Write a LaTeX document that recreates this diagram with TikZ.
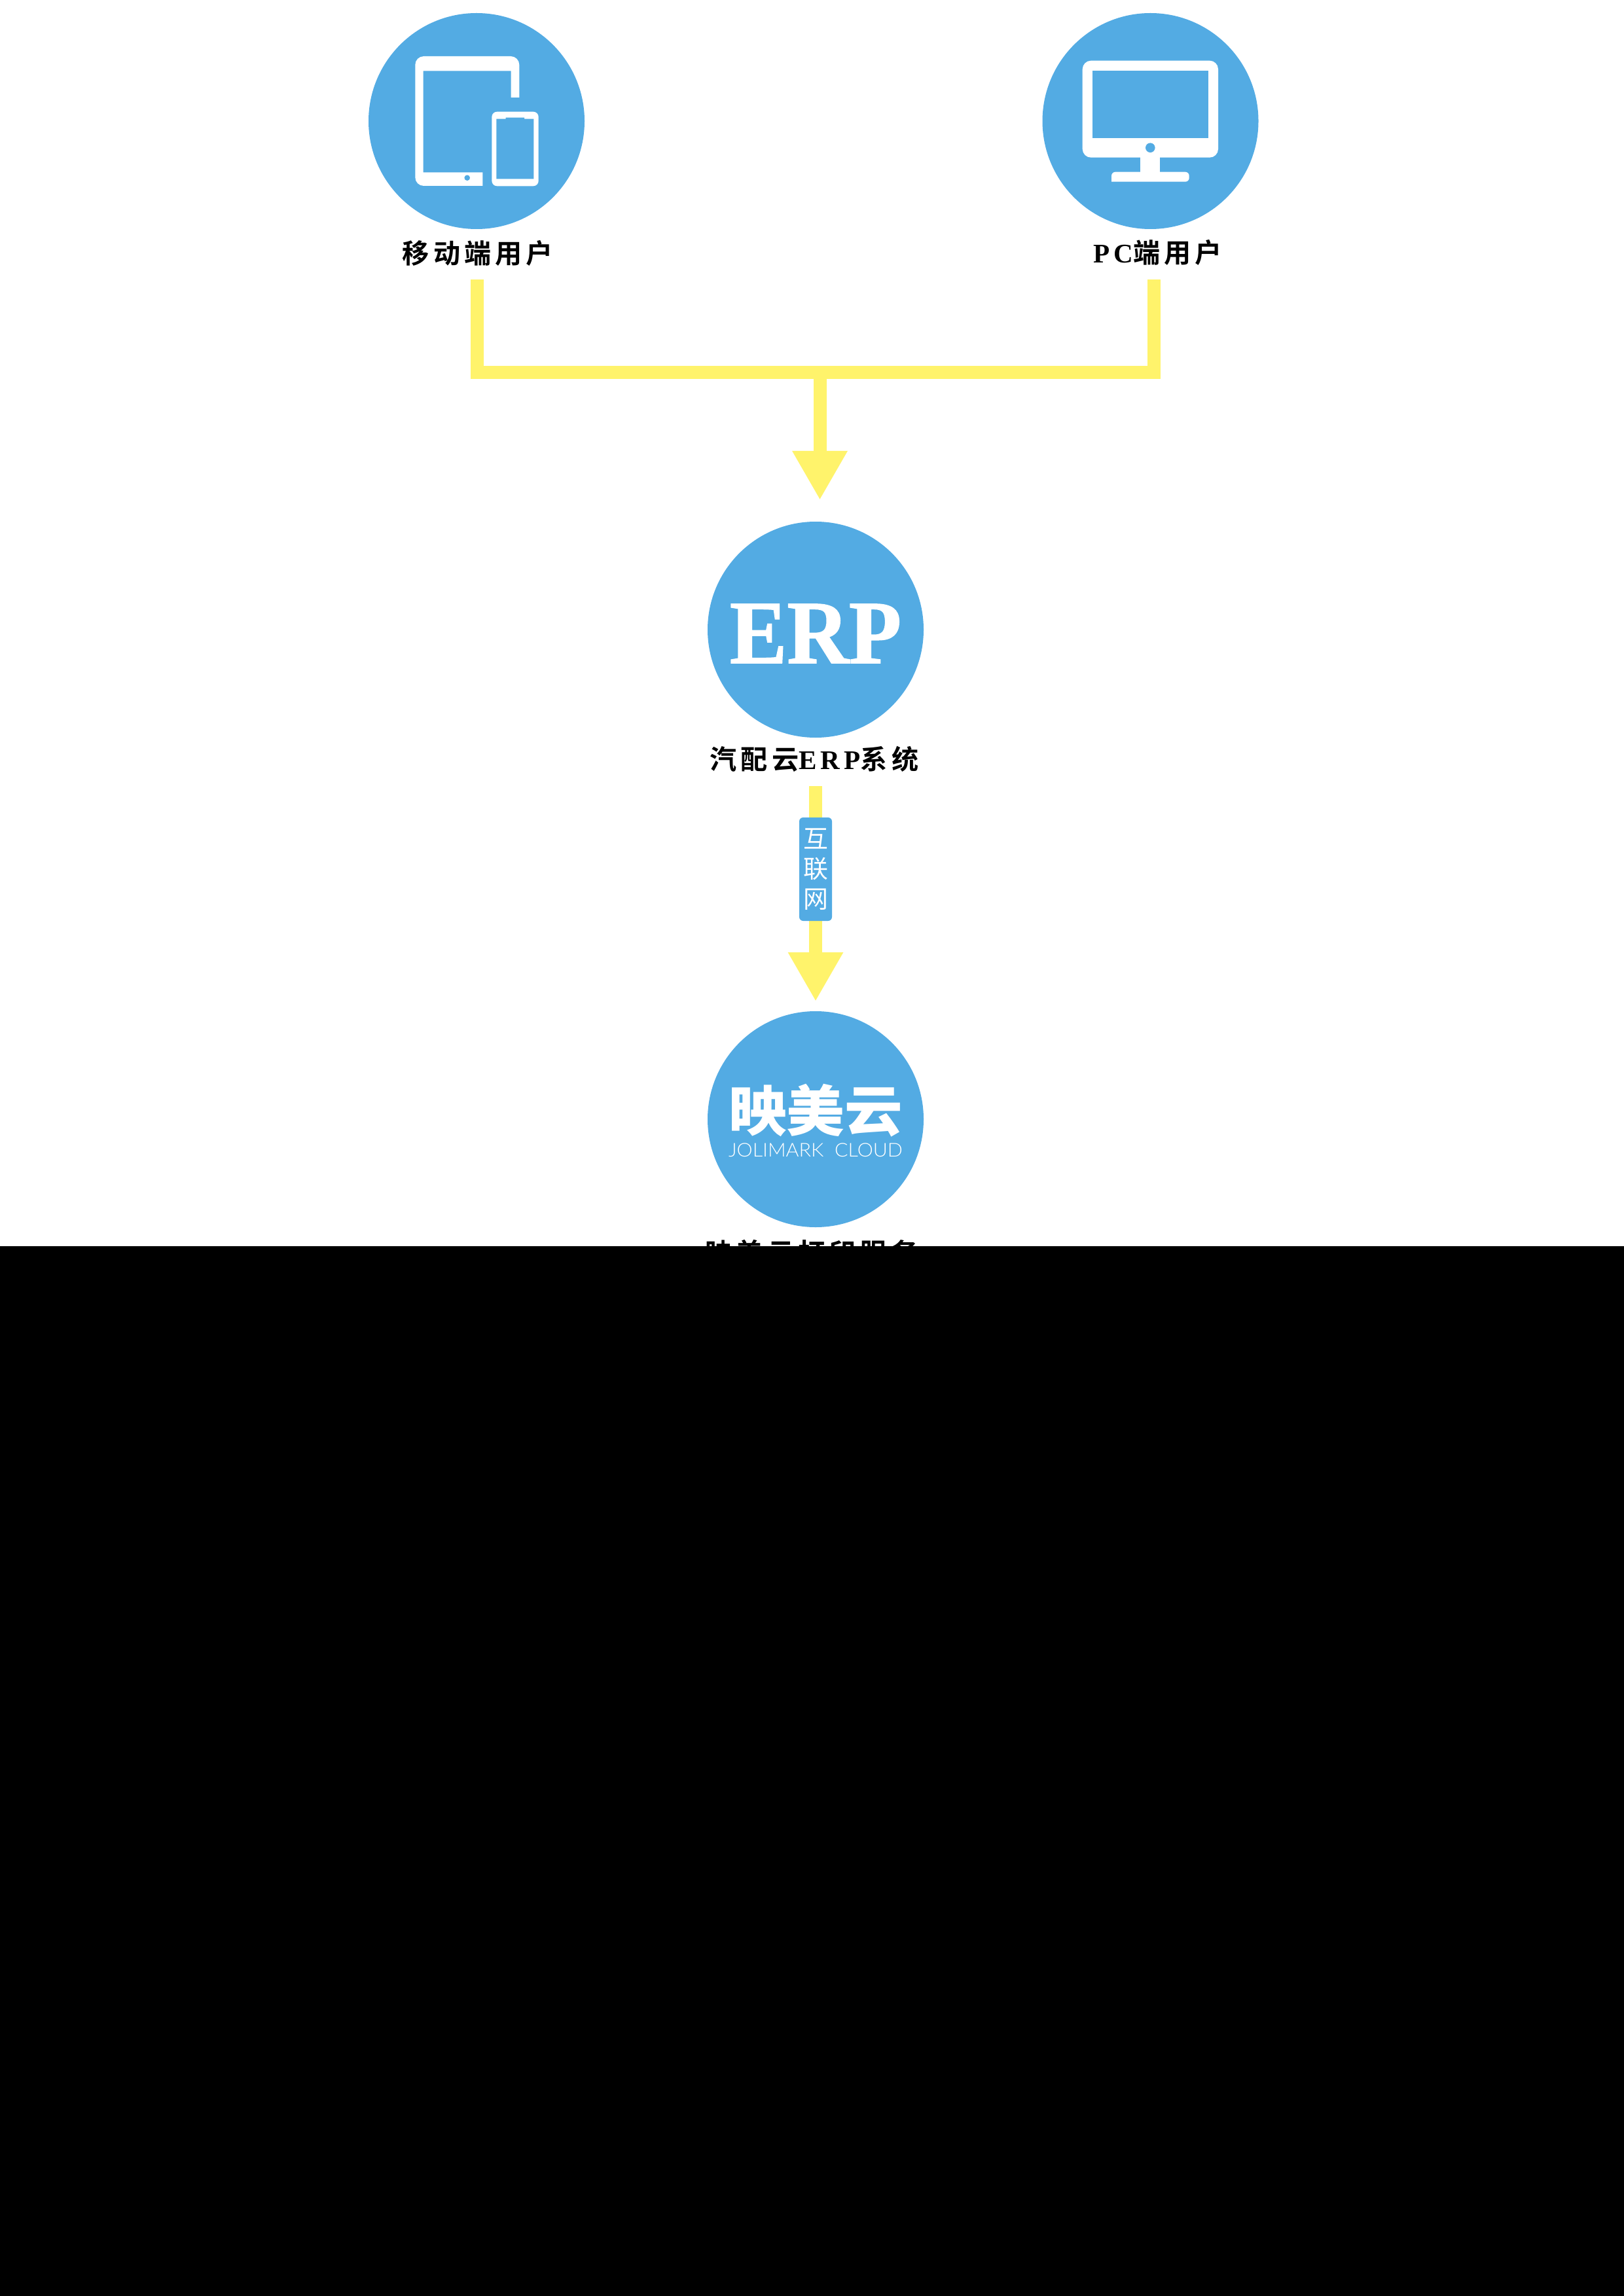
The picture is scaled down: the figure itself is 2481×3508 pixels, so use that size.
\documentclass[tikz,border=0pt]{standalone}
\usepackage{fontspec}
\usepackage{graphicx}
\usetikzlibrary{arrows.meta, positioning}
\setmainfont{Liberation Serif}
\newfontfamily\cjk[LetterSpace=15,BoldFont={Noto Sans CJK SC Bold}]{Noto Sans CJK SC}
\newfontfamily\lat[LetterSpace=15]{Liberation Serif}
\newfontfamily\logocjk{Noto Sans CJK SC}
\newfontfamily\logolat{Lato Light}
\newfontfamily\erpfont[FakeBold=1.2]{Liberation Serif Bold}
\definecolor{cloudblue}{HTML}{53ABE3}
\definecolor{flowyellow}{HTML}{FFF36B}
\tikzset{
  disc/.style={circle, fill=cloudblue, minimum size=33mm, inner sep=0pt},
  caption/.style={inner sep=0pt, font=\fontsize{11.7}{13}\selectfont\bfseries},
  disctext/.style={inner sep=0pt, text=white},
  flow/.style={draw=flowyellow, line width=2mm, miter limit=10},
  flowhead/.style={-{Triangle[width=7.9mm, length=7.5mm]}},
  badge/.style={fill=cloudblue, rounded corners=0.6mm, minimum width=5mm, minimum height=15.8mm, inner sep=0pt, text=white, align=center, font=\fontsize{10.8}{13.1}\selectfont\logocjk}
}
\begin{document}
\begin{tikzpicture}[x=0.1mm, y=-0.1mm]
        \useasboundingbox (0,0) rectangle (2481,3508);

        % Circles
        \node[disc] (mobile) at (728,185) {};
        \node[disc] (pc) at (1757.5,185) {};
        \node[disc] (erp) at (1246,962) {};
        \node[disc] (cloud) at (1246,1710) {};

        % Captions
        \node[caption] (mobilecap) at (730,387) {\cjk 移动端用户};
        \node[caption] (pccap) at (1768.5,386) {\lat PC\cjk 端用户};
        \node[caption] (erpcap) at (1244,1160) {\cjk 汽配云\lat ERP\cjk 系统};
        \node[caption] (cloudcap) at (1240,1914) {\cjk 映美云打印服务};

        % Tablet
        \fill[white, rounded corners=1.3mm] (737.3,284) -- (634.3,284) -- (634.3,86) -- (793.3,86) -- (793.3,120) [sharp corners] -- (793.3,149) -- (780.7,149) -- (780.7,108.3) -- (646.7,108.3) -- (646.7,263.3) -- (737.3,263.3) -- cycle;
        \fill[cloudblue] (713.7,271.7) circle (4.3);
        \fill[white, rounded corners=0.8mm] (751.3,170.7) rectangle (822.7,284.3);
        \fill[cloudblue] (758.3,181.7) -- (772.7,181.7) -- (772.7,179.7) -- (801,179.7) -- (801,181.7) -- (815.3,181.7) -- (815.3,273.3) -- (758.3,273.3) -- cycle;

        % Monitor
        \fill[white, rounded corners=1.3mm] (1653.7,92.7) rectangle (1861,240.7);
        \fill[cloudblue] (1668.7,107.7) rectangle (1846,211);
        \fill[cloudblue] (1757.3,225.7) circle (7.3);
        \fill[white] (1742.3,235) rectangle (1772.3,265);
        \fill[white, rounded corners=0.6mm] (1698,277.7) -- (1698,262.7) -- (1816.7,262.7) -- (1816.7,277.7) [sharp corners] -- cycle;

        % Disc texts
        \node[disctext] (erptext) at (1246,968) {\resizebox{26.2mm}{9mm}{\erpfont ERP}};
        \node[disctext] (logotext) at (1246,1696.5) {\resizebox*{26.6mm}{8.1mm}{\logocjk\bfseries 映美云}};
        \node[disctext] (logosub) at (1246,1757.5) {\resizebox*{26.6mm}{2.1mm}{\logolat JOLIMARK\ \ CLOUD}};

        % Arrows
        \coordinate (mobileout) at (728.5,427);
        \coordinate (pcout) at (1763,427);
        \coordinate (busmid) at (1252.5,569);
        \coordinate (erpin) at (1252.5,764);
        \coordinate (erpout) at (1246,1201);
        \coordinate (cloudin) at (1246,1530);
        \draw[flow] (mobileout) |- (busmid) -| (pcout);
        \draw[flow, flowhead] (busmid) -- (erpin);
        \draw[flow, flowhead] (erpout) -- (cloudin);
        \node[badge] (net) at (1246,1328) {互\\联\\网};

        % Lower part of the page
        \fill[black] (0,1904) rectangle (2481,3508);
    \end{tikzpicture}
\end{document}
